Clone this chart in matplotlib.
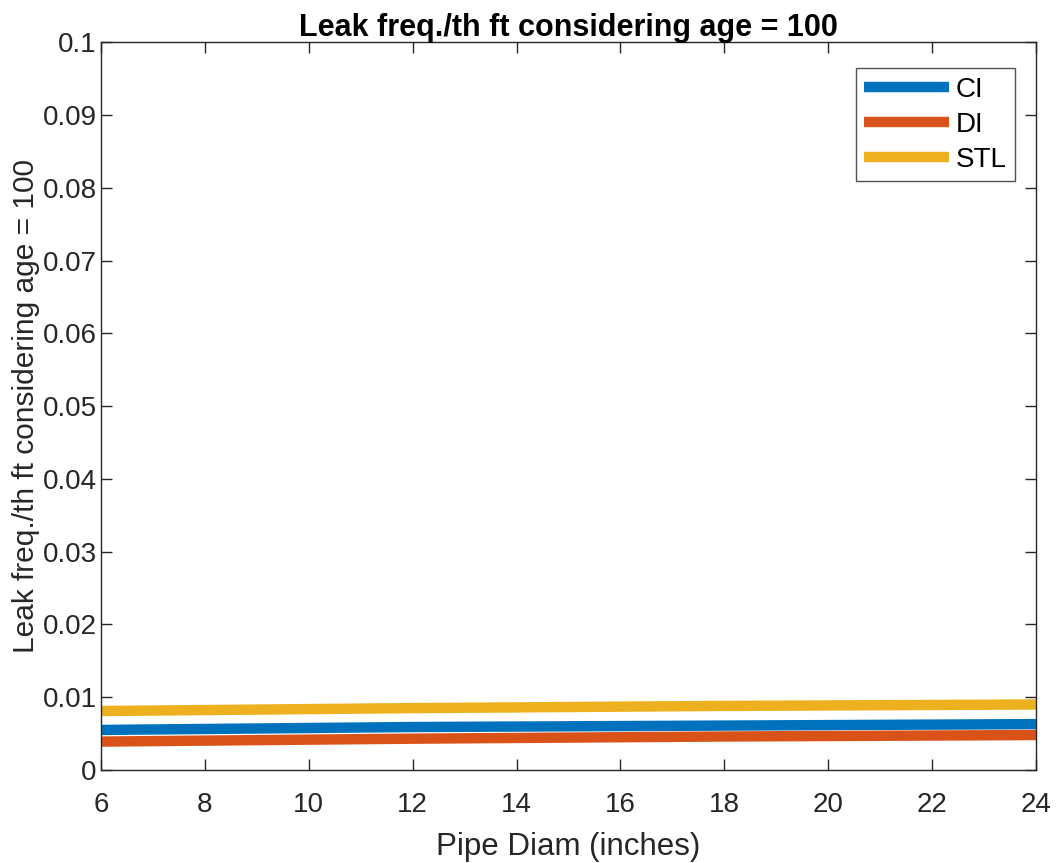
import matplotlib
matplotlib.use("Agg")
import matplotlib.pyplot as plt

plt.rcParams['font.family'] = ['Liberation Sans', 'DejaVu Sans']

# Pipe diameters (inches) and leak frequency per thousand feet at age 100
diam = [6, 12, 18, 24]
ci = [0.0055, 0.0059, 0.0061, 0.0063]
di = [0.0039, 0.0043, 0.0046, 0.0048]
stl = [0.0081, 0.0085, 0.0088, 0.0090]
series_names = ['CI', 'DI', 'STL']
colors = ['#0072BD', '#D95319', '#EDB120']

xticks = [6, 8, 10, 12, 14, 16, 18, 20, 22, 24]
yticks = [0, 0.01, 0.02, 0.03, 0.04, 0.05, 0.06, 0.07, 0.08, 0.09, 0.1]
ytick_labels = ['0', '0.01', '0.02', '0.03', '0.04', '0.05', '0.06', '0.07', '0.08', '0.09', '0.1']

fig = plt.figure(figsize=(10.56, 8.63), dpi=100)
ax = fig.add_axes([0.0956, 0.1078, 0.8854, 0.8432])

for vals, name, c in zip([ci, di, stl], series_names, colors):
    ax.plot(diam, vals, color=c, linewidth=7.5, label=name, solid_capstyle='butt')

ax.set_xlim(6, 24)
ax.set_ylim(0, 0.1)
ax.set_xticks(xticks)
ax.set_xticklabels([str(t) for t in xticks])
ax.set_yticks(yticks)
ax.set_yticklabels(ytick_labels)

tc = '#262626'
ax.tick_params(direction='in', length=8, width=1, colors=tc, labelsize=20,
               top=True, right=True, labeltop=False, labelright=False)
ax.tick_params(axis='x', pad=16)
ax.tick_params(axis='y', pad=3)
for sp in ax.spines.values():
    sp.set_color(tc)
    sp.set_linewidth(1)

ax.set_xlabel('Pipe Diam (inches)', fontsize=22.5, color=tc, labelpad=10)
ax.set_ylabel('Leak freq./th ft considering age = 100', fontsize=21.5, color=tc, labelpad=2)
ax.set_title('Leak freq./th ft considering age = 100', fontsize=22, fontweight='bold',
             color='black', pad=4.5)

leg = ax.legend(loc='upper right', fontsize=20, frameon=True, fancybox=False,
                handlelength=3.05, handletextpad=0.25, borderpad=0.3,
                labelspacing=0.32, borderaxespad=0,
                bbox_to_anchor=(0.9775, 0.964))
leg.get_frame().set_edgecolor(tc)
leg.get_frame().set_linewidth(1)

fig.savefig('out.png', dpi=100, facecolor='white')
